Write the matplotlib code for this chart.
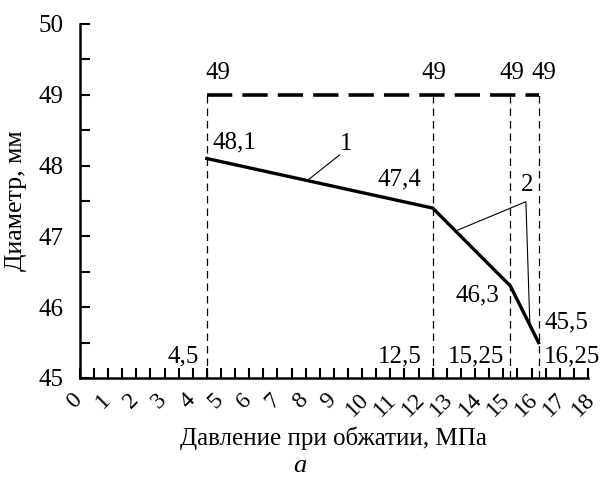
import numpy as np
import matplotlib.pyplot as plt
import matplotlib.transforms as mtransforms

plt.rcParams['font.family'] = ['Liberation Serif', 'DejaVu Serif']

# data
pressure = [4.5, 12.5, 15.25, 16.25]
diameter = [48.1, 47.4, 46.3, 45.5]
initial_d = [49, 49, 49, 49]
x_ticks = list(range(0, 19))
y_ticks = [45, 46, 47, 48, 49, 50]

fig = plt.figure(figsize=(6, 4.8), dpi=100)
ax = fig.add_axes([0.133, 0.2125, 0.847, 0.7375])

# vertical guides
for p in pressure:
    ax.plot([p, p], [45, 49], color='black', lw=0.9, ls=(0, (6, 4)))
ax.plot(pressure, initial_d, color='black', lw=2.6, ls=(0, (7, 2.8)))
ax.plot(pressure, diameter, color='black', lw=2.4, solid_joinstyle='miter')

fs = 18
# value labels on the curve
ax.text(4.7, 48.32, '48,1', fontsize=fs, ha='left', va='center')
ax.text(12.1, 47.8, '47,4', fontsize=fs, ha='right', va='center')
ax.text(14.85, 46.17, '46,3', fontsize=fs, ha='right', va='center')
ax.text(16.45, 45.79, '45,5', fontsize=fs, ha='left', va='center')
# top 49 labels
for xp in [4.9, 12.55, 15.3, 16.45]:
    ax.text(xp, 49.31, '49', fontsize=fs, ha='center', va='center')
# bottom pressure labels
ax.text(4.2, 45.3, '4,5', fontsize=fs, ha='right', va='center')
ax.text(12.1, 45.3, '12,5', fontsize=fs, ha='right', va='center')
ax.text(15.05, 45.3, '15,25', fontsize=fs, ha='right', va='center')
ax.text(16.45, 45.3, '16,25', fontsize=fs, ha='left', va='center')

# curve numbers with leader lines
ax.plot([8.06, 9.2], [47.79, 48.15], color='black', lw=0.8)
ax.text(9.45, 48.3, '1', fontsize=fs, ha='center', va='center')
ax.plot([13.39, 15.8, 15.94], [47.09, 47.49, 45.76], color='black', lw=0.8)
ax.text(15.85, 47.72, '2', fontsize=fs, ha='center', va='center')

ax.set_xlim(0, 18)
ax.set_ylim(45, 50)
ax.set_xticks(x_ticks)
ax.set_xticklabels([str(v) for v in x_ticks], rotation=45, fontsize=fs - 1)
ax.set_xticks(np.arange(0, 18.5, 0.5), minor=True)
ax.set_yticks(y_ticks)
ax.set_yticklabels([str(v) for v in y_ticks], fontsize=fs)
ax.set_yticks(np.arange(45, 50.5, 0.5), minor=True)
ax.tick_params(which='both', direction='in', length=7, width=1.5)
ax.tick_params(axis='x', which='both', pad=8)
ax.tick_params(axis='y', which='both', pad=12)

# shift rotated tick labels slightly left
shift = mtransforms.ScaledTranslation(-5 / 100, 0, fig.dpi_scale_trans)
for lbl in ax.get_xticklabels():
    lbl.set_transform(lbl.get_transform() + shift)

for s in ['top', 'right']:
    ax.spines[s].set_visible(False)
for s in ['left', 'bottom']:
    ax.spines[s].set_linewidth(1.8)

ax.set_xlabel('Давление при обжатии, МПа', fontsize=fs, labelpad=4)
ax.set_ylabel('Диаметр, мм', fontsize=fs + 0.5, labelpad=8)
fig.text(0.5, 0.03, 'а', fontsize=fs + 1, style='italic', ha='center', va='center')

fig.savefig('out.png', dpi=100)
